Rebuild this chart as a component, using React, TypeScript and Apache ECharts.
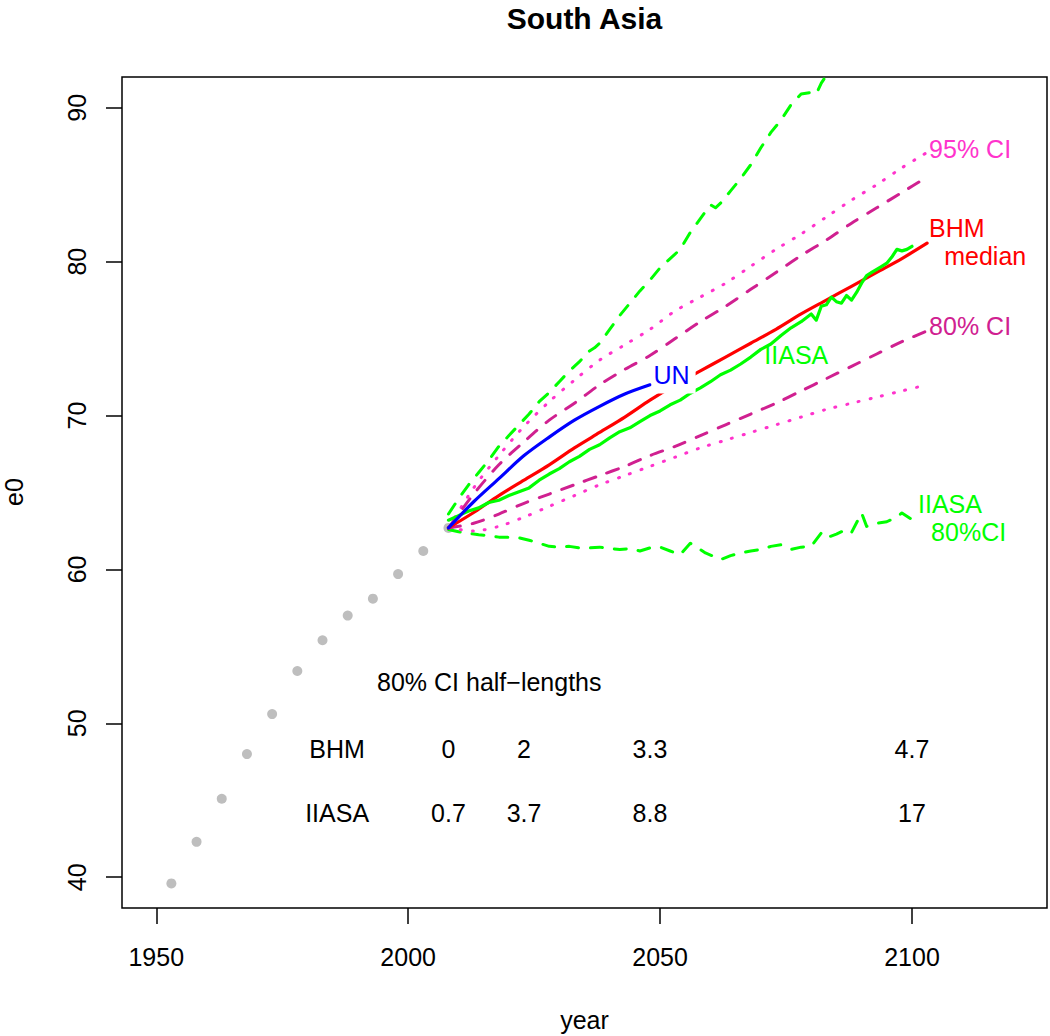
import React, { useEffect, useRef } from "react";
import * as echarts from "echarts";

// ---------- data ----------
const histYears = [1953, 1958, 1963, 1968, 1973, 1978, 1983, 1988, 1993, 1998, 2003, 2008];
const histE0 = [39.6, 42.3, 45.1, 48.0, 50.6, 53.4, 55.4, 57.0, 58.1, 59.7, 61.2, 62.7];

const projYears = [2008, 2013, 2018, 2023, 2028, 2033, 2038, 2043, 2048, 2053, 2058, 2063, 2068, 2073, 2078, 2083, 2088, 2093, 2098, 2103];
const bhmMedian = [62.7, 63.7, 64.8, 65.8, 66.8, 67.9, 68.9, 69.9, 71.0, 72.0, 72.9, 73.8, 74.7, 75.6, 76.6, 77.5, 78.4, 79.3, 80.2, 81.2];
const bhm80Upper = [62.7, 64.9, 66.8, 68.3, 69.7, 70.8, 72.0, 73.0, 73.9, 75.0, 76.1, 77.1, 78.2, 79.3, 80.4, 81.4, 82.5, 83.5, 84.5, 85.5];
const bhm80Lower = [62.7, 63.0, 63.6, 64.3, 64.9, 65.5, 66.1, 66.7, 67.4, 68.0, 68.7, 69.4, 70.1, 70.8, 71.6, 72.4, 73.2, 74.0, 74.8, 75.5];
const bhm95Upper = [62.7, 65.3, 67.4, 69.3, 70.9, 72.3, 73.6, 74.6, 75.6, 76.8, 77.7, 78.6, 79.7, 80.8, 81.8, 82.9, 84.0, 85.0, 86.1, 87.1];
const bhm95Lower = [62.7, 62.5, 62.8, 63.4, 64.1, 64.8, 65.5, 66.1, 66.7, 67.3, 67.9, 68.4, 68.9, 69.4, 69.9, 70.4, 70.8, 71.2, 71.6, 72.0];

const unYears = [2008, 2013, 2018, 2023, 2028, 2033, 2038, 2043, 2048];
const unE0 = [62.7, 64.4, 65.9, 67.4, 68.6, 69.7, 70.6, 71.4, 72.0];

const iiasaMedYears = [2008, 2010, 2012, 2014, 2016, 2018, 2020, 2022, 2024, 2026, 2028, 2030, 2032, 2034, 2036, 2038, 2040, 2042, 2044, 2046, 2048, 2050, 2052, 2054, 2056, 2058, 2060, 2062, 2064, 2066, 2068, 2070, 2072, 2074, 2076, 2078, 2080, 2081, 2082, 2083, 2084, 2085, 2086, 2087, 2088, 2089, 2090, 2091, 2092, 2093, 2094, 2095, 2096, 2097, 2098, 2099, 2100];
const iiasaMedE0 = [63.2, 63.5, 63.8, 64.0, 64.35, 64.5, 64.8, 65.05, 65.3, 65.8, 66.2, 66.55, 67.0, 67.35, 67.8, 68.1, 68.55, 68.95, 69.2, 69.6, 70.0, 70.3, 70.7, 71.0, 71.45, 71.8, 72.2, 72.65, 72.95, 73.35, 73.8, 74.3, 74.65, 75.2, 75.7, 76.1, 76.6, 76.2, 77.1, 77.2, 77.7, 77.4, 77.3, 77.8, 77.5, 78.0, 78.6, 79.1, 79.3, 79.5, 79.7, 79.9, 80.3, 80.8, 80.7, 80.8, 81.0];

const iiasaUpYears = [2008, 2010, 2012, 2014, 2016, 2018, 2020, 2022, 2024, 2026, 2028, 2030, 2032, 2034, 2036, 2037, 2038, 2040, 2042, 2044, 2046, 2048, 2050, 2052, 2054, 2056, 2058, 2060, 2061, 2062, 2064, 2066, 2068, 2070, 2072, 2074, 2076, 2078, 2080, 2081, 2082, 2084, 2086];
const iiasaUpE0 = [63.6, 64.6, 65.5, 66.3, 67.1, 68.0, 68.7, 69.4, 70.1, 70.9, 71.5, 72.2, 72.9, 73.5, 74.2, 74.4, 74.7, 75.6, 76.5, 77.3, 78.1, 78.8, 79.6, 80.2, 80.8, 81.9, 82.8, 83.7, 83.5, 83.8, 84.6, 85.4, 86.3, 87.4, 88.4, 89.2, 90.2, 90.9, 91.0, 90.9, 91.6, 92.6, 93.5];

const iiasaLoYears = [2008, 2010, 2012, 2014, 2016, 2018, 2020, 2022, 2024, 2026, 2028, 2030, 2032, 2034, 2036, 2038, 2040, 2042, 2044, 2046, 2048, 2050, 2052, 2054, 2056, 2057, 2059, 2061, 2062, 2064, 2066, 2068, 2070, 2072, 2074, 2076, 2078, 2080, 2082, 2083, 2085, 2087, 2088, 2090, 2091, 2093, 2095, 2097, 2098, 2100];
const iiasaLoE0 = [62.6, 62.45, 62.35, 62.25, 62.2, 62.1, 62.1, 62.05, 61.9, 61.7, 61.5, 61.45, 61.5, 61.4, 61.4, 61.45, 61.35, 61.3, 61.35, 61.2, 61.4, 61.45, 61.2, 60.96, 61.7, 61.5, 61.07, 60.8, 60.64, 60.9, 61.07, 61.2, 61.3, 61.5, 61.6, 61.3, 61.45, 61.5, 62.37, 62.05, 62.3, 62.6, 62.4, 63.67, 62.8, 63.0, 63.1, 63.4, 63.67, 63.24];

// 80% CI half-lengths table
const tableYears = [2008, 2023, 2048, 2100];
const bhmHalf = ["0", "2", "3.3", "4.7"];
const iiasaHalf = ["0.7", "3.7", "8.8", "17"];

const xTicks = [1950, 2000, 2050, 2100];
const yTicks = [40, 50, 60, 70, 80, 90];

// ---------- styles ----------
const FONT = "'Liberation Sans', Arial, Helvetica, sans-serif";
const C_GREEN = "#00FF00";
const C_RED = "#FF0000";
const C_BLUE = "#0000FF";
const C_DASH = "#D02090";
const C_DOT = "#FF33CC";

const zip = (xs: number[], ys: number[]) => xs.map((x, i) => [x, ys[i]]);

type Anno = { text: string; x: number; y: number; color: string; left: boolean; bg?: boolean };
const annotations: Anno[] = [
  { text: "95% CI", x: 2103.3, y: 87.3, color: C_DOT, left: true },
  { text: "BHM", x: 2103.3, y: 82.2, color: C_RED, left: true },
  { text: "median", x: 2106.3, y: 80.4, color: C_RED, left: true },
  { text: "80% CI", x: 2103.3, y: 75.82, color: C_DASH, left: true },
  { text: "UN", x: 2048.2, y: 72.64, color: C_BLUE, left: true, bg: true },
  { text: "IIASA", x: 2070.6, y: 73.92, color: C_GREEN, left: true },
  { text: "IIASA", x: 2101.1, y: 64.25, color: C_GREEN, left: true },
  { text: "80%CI", x: 2103.7, y: 62.45, color: C_GREEN, left: true },
  { text: "80% CI half\u2212lengths", x: 2016.1, y: 52.7, color: "#000", left: false },
  { text: "BHM", x: 1985.9, y: 48.3, color: "#000", left: false },
  { text: "IIASA", x: 1985.9, y: 44.2, color: "#000", left: false },
  ...tableYears.map((yr, i) => ({ text: bhmHalf[i], x: yr, y: 48.3, color: "#000", left: false })),
  ...tableYears.map((yr, i) => ({ text: iiasaHalf[i], x: yr, y: 44.2, color: "#000", left: false })),
];

function lineSeries(data: number[][], color: string, width: number, dash?: number[], z = 2, smooth = false) {
  return {
    type: "line",
    data,
    showSymbol: false,
    symbol: "none",
    clip: true,
    silent: true,
    smooth: smooth ? 0.3 : false,
    z,
    lineStyle: {
      color,
      width,
      type: dash ? dash : "solid",
      cap: "round",
      join: "round",
      opacity: 1,
    },
  };
}

export default function App() {
  const ref = useRef<HTMLDivElement>(null);
  useEffect(() => {
    if (!ref.current) return;
    const chart = echarts.init(ref.current, null, { renderer: "svg" });
    const option: any = {
      animation: false,
      backgroundColor: "#ffffff",
      textStyle: { fontFamily: FONT },
      grid: {
        left: 122,
        right: 3,
        top: 77,
        bottom: 128,
        show: true,
        borderColor: "#000",
        borderWidth: 1.5,
        backgroundColor: "transparent",
      },
      xAxis: {
        type: "value",
        min: 1943.2,
        max: 2126.8,
        splitLine: { show: false },
        axisLine: { show: false },
        axisTick: {
          show: true,
          inside: false,
          length: 16,
          customValues: xTicks,
          lineStyle: { color: "#000", width: 1.5 },
        },
        axisLabel: {
          customValues: xTicks,
          formatter: (v: number) => String(v),
          fontSize: 25,
          color: "#000",
          fontFamily: FONT,
          margin: 36,
        },
      },
      yAxis: {
        type: "value",
        min: 38,
        max: 92,
        splitLine: { show: false },
        axisLine: { show: false },
        axisTick: {
          show: true,
          inside: false,
          length: 16,
          customValues: yTicks,
          lineStyle: { color: "#000", width: 1.5 },
        },
        axisLabel: {
          customValues: yTicks,
          formatter: (v: number) => String(v),
          fontSize: 25,
          color: "#000",
          fontFamily: FONT,
          rotate: 90,
          margin: 33,
        },
      },
      graphic: [
        {
          type: "text",
          x: 584.5,
          y: 18,
          style: {
            text: "South Asia",
            font: `bold 30px ${FONT}`,
            fill: "#000",
            textAlign: "center",
            textVerticalAlign: "middle",
            align: "center",
            verticalAlign: "middle",
          },
        },
        {
          type: "text",
          x: 584.5,
          y: 1020,
          style: {
            text: "year",
            font: `25px ${FONT}`,
            fill: "#000",
            textAlign: "center",
            textVerticalAlign: "middle",
            align: "center",
            verticalAlign: "middle",
          },
        },
        {
          type: "text",
          x: 14,
          y: 492,
          rotation: Math.PI / 2,
          style: {
            text: "e0",
            font: `25px ${FONT}`,
            fill: "#000",
            textAlign: "center",
            textVerticalAlign: "middle",
            align: "center",
            verticalAlign: "middle",
          },
        },
      ],
      series: [
        {
          type: "scatter",
          data: zip(histYears, histE0),
          symbol: "circle",
          symbolSize: 10,
          silent: true,
          itemStyle: { color: "#BEBEBE", opacity: 1 },
          z: 1,
        },
        lineSeries(zip(iiasaUpYears, iiasaUpE0), C_GREEN, 3, [12, 12]),
        lineSeries(zip(iiasaLoYears, iiasaLoE0), C_GREEN, 3, [12, 12]),
        lineSeries(zip(projYears, bhm95Upper), C_DOT, 3, [1, 11], 2, true),
        lineSeries(zip(projYears, bhm95Lower), C_DOT, 3, [1, 11], 2, true),
        lineSeries(zip(projYears, bhm80Upper), C_DASH, 3, [12, 12], 2, true),
        lineSeries(zip(projYears, bhm80Lower), C_DASH, 3, [12, 12], 2, true),
        lineSeries(zip(projYears, bhmMedian), C_RED, 3.2, undefined, 3, true),
        lineSeries(zip(iiasaMedYears, iiasaMedE0), C_GREEN, 3.2, undefined, 3),
        lineSeries(zip(unYears, unE0), C_BLUE, 3.2, undefined, 3, true),
        {
          type: "scatter",
          z: 10,
          silent: true,
          symbol: "circle",
          symbolSize: 1,
          itemStyle: { color: "rgba(0,0,0,0)", opacity: 1 },
          data: annotations.map((a) => ({
            value: [a.x, a.y],
            label: {
              show: true,
              formatter: a.text,
              position: a.left ? "right" : "inside",
              distance: 0,
              color: a.color,
              opacity: 1,
              fontSize: 25,
              lineHeight: 21,
              fontFamily: FONT,
              textBorderWidth: 0,
              textBorderColor: "transparent",
              backgroundColor: a.bg ? "#ffffff" : "transparent",
              padding: a.bg ? [4, 6, 12, 2] : 0,
            },
          })),
        },
      ],
    };
    chart.setOption(option);
    return () => chart.dispose();
  }, []);
  return (
    <div
      ref={ref}
      style={{ position: "absolute", left: 0, top: 0, width: 1050, height: 1036, background: "#fff" }}
    />
  );
}
